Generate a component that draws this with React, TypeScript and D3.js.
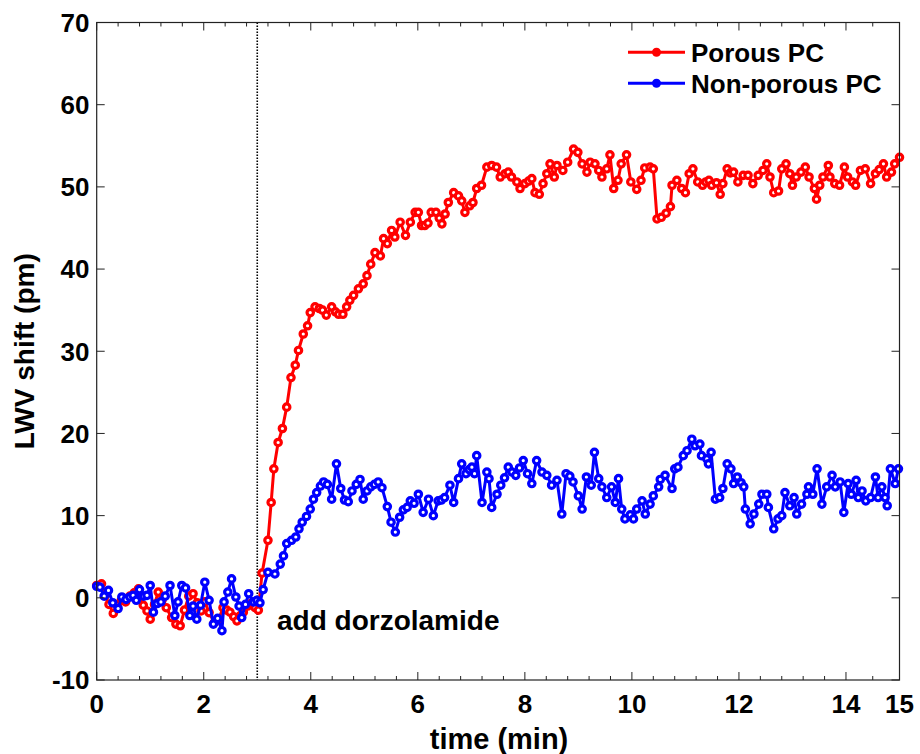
import React from "react";
import * as d3 from "d3";

// ---------- data ----------
const porousData: [number, number][] = [
  [0.0, 1.5], [0.09, 1.7], [0.16, 0.3], [0.23, -0.8], [0.31, -1.9], [0.38, -0.9], [0.46, -0.3], [0.54, -0.5],
  [0.62, 0.2], [0.7, 0.6], [0.78, 1.1], [0.87, -0.9], [0.94, -1.6], [1.0, -2.6], [1.08, -0.8], [1.15, 0.7],
  [1.22, -0.3], [1.3, -1.2], [1.4, -2.4], [1.48, -3.2], [1.56, -3.4], [1.64, -1.5], [1.72, 0.2], [1.8, 0.5],
  [1.88, -0.6], [1.95, -1.6], [2.02, -0.5], [2.1, -1.8], [2.2, -3.0], [2.28, -2.6], [2.36, -1.2], [2.43, -1.5],
  [2.49, -1.75], [2.56, -2.3], [2.62, -2.8], [2.68, -2.2], [2.74, -1.75], [2.82, -1.0], [2.9, -0.6], [2.96, -1.2],
  [3.02, -1.5], [3.09, 3.0], [3.2, 7.0], [3.26, 11.6], [3.31, 15.7], [3.39, 18.9], [3.47, 20.6], [3.55, 23.2],
  [3.63, 26.8], [3.71, 28.3], [3.77, 30.1], [3.86, 32.1], [3.94, 33.1], [3.99, 34.7], [4.08, 35.4], [4.16, 35.2],
  [4.22, 35.0], [4.29, 34.4], [4.39, 35.4], [4.46, 34.8], [4.52, 34.5], [4.6, 34.5], [4.67, 35.4], [4.73, 36.2],
  [4.8, 36.8], [4.89, 37.6], [4.98, 38.2], [5.05, 39.2], [5.12, 40.6], [5.2, 42.0], [5.3, 41.6], [5.36, 43.7],
  [5.43, 43.1], [5.51, 44.7], [5.57, 43.9], [5.67, 45.7], [5.77, 44.1], [5.86, 45.7], [5.95, 46.9], [6.01, 46.9],
  [6.07, 45.3], [6.13, 45.3], [6.19, 45.6], [6.25, 46.9], [6.34, 46.9], [6.4, 46.2], [6.45, 45.5], [6.51, 46.7],
  [6.57, 48.1], [6.67, 49.3], [6.76, 48.9], [6.82, 48.3], [6.88, 46.9], [6.97, 47.7], [7.03, 48.1], [7.1, 49.8],
  [7.19, 50.2], [7.29, 52.4], [7.38, 52.6], [7.47, 52.4], [7.54, 51.2], [7.63, 51.6], [7.69, 51.8], [7.75, 51.2],
  [7.85, 50.6], [7.91, 49.8], [8.0, 50.4], [8.07, 50.7], [8.13, 51.0], [8.19, 49.3], [8.27, 49.1], [8.34, 50.4],
  [8.41, 51.6], [8.47, 52.8], [8.55, 51.2], [8.6, 52.6], [8.71, 52.0], [8.8, 53.0], [8.91, 54.6], [8.99, 54.2],
  [9.07, 52.8], [9.16, 51.8], [9.22, 53.0], [9.31, 52.8], [9.38, 52.0], [9.44, 51.2], [9.53, 52.2], [9.59, 53.9],
  [9.66, 49.8], [9.74, 50.8], [9.8, 52.8], [9.9, 53.9], [9.98, 50.6], [10.09, 49.7], [10.17, 50.8], [10.24, 52.3],
  [10.34, 52.4], [10.4, 52.2], [10.47, 46.1], [10.55, 46.3], [10.64, 46.8], [10.72, 47.6], [10.75, 50.2], [10.84, 50.8],
  [10.93, 49.8], [11.0, 49.3], [11.07, 51.6], [11.14, 52.2], [11.23, 50.6], [11.32, 50.2], [11.38, 50.6], [11.44, 50.8],
  [11.49, 50.2], [11.58, 50.5], [11.65, 49.1], [11.7, 50.4], [11.78, 52.2], [11.84, 51.7], [11.9, 51.8], [11.98, 50.6],
  [12.08, 51.4], [12.17, 51.4], [12.26, 50.4], [12.36, 51.4], [12.45, 52.0], [12.52, 52.8], [12.58, 51.2], [12.65, 49.3],
  [12.74, 49.5], [12.8, 52.2], [12.88, 52.8], [12.95, 51.6], [13.0, 50.2], [13.07, 51.2], [13.16, 51.8], [13.24, 52.4],
  [13.31, 51.2], [13.41, 49.8], [13.45, 48.5], [13.51, 50.2], [13.57, 51.2], [13.67, 52.6], [13.7, 51.2], [13.79, 50.4],
  [13.88, 50.2], [13.97, 52.4], [14.03, 51.2], [14.12, 50.6], [14.18, 50.2], [14.27, 52.0], [14.36, 52.2], [14.46, 50.4],
  [14.55, 51.6], [14.62, 52.1], [14.7, 52.8], [14.76, 51.2], [14.85, 51.8], [14.91, 52.8], [15.0, 53.6],
];

const nonPorousData: [number, number][] = [
  [0.0, 1.4], [0.06, 1.3], [0.14, 0.2], [0.22, 0.9], [0.3, -0.6], [0.4, -1.3], [0.47, 0.1], [0.55, -0.2],
  [0.62, 0.1], [0.68, 0.3], [0.74, -0.3], [0.8, 1.0], [0.88, 0.2], [0.94, 0.3], [1.0, 1.5], [1.06, -1.75],
  [1.13, -0.7], [1.2, -0.5], [1.28, 0.2], [1.37, 1.5], [1.46, -2.15], [1.52, -0.5], [1.59, 1.5], [1.66, 1.2],
  [1.74, -2.15], [1.8, -1.0], [1.87, -2.6], [1.94, -0.9], [2.02, 1.9], [2.1, -0.3], [2.18, -3.2], [2.26, -2.5],
  [2.34, -4.0], [2.38, -0.5], [2.45, 0.7], [2.52, 2.3], [2.6, 0.1], [2.66, -1.0], [2.71, -2.4], [2.78, -0.8],
  [2.84, 0.5], [2.93, -0.5], [2.99, -0.3], [3.05, -0.6], [3.11, 1.0], [3.2, 3.1], [3.33, 2.9], [3.43, 4.1],
  [3.49, 5.1], [3.55, 6.6], [3.64, 7.0], [3.72, 7.4], [3.78, 8.4], [3.84, 9.2], [3.92, 9.9], [3.99, 10.8],
  [4.05, 12.0], [4.11, 12.8], [4.18, 13.6], [4.24, 14.1], [4.31, 13.8], [4.39, 12.0], [4.48, 16.3], [4.56, 13.3],
  [4.63, 11.9], [4.7, 11.7], [4.77, 13.0], [4.85, 13.8], [4.92, 14.4], [4.98, 12.0], [5.05, 13.0], [5.12, 13.5],
  [5.19, 13.8], [5.26, 14.1], [5.33, 13.4], [5.43, 11.1], [5.5, 9.2], [5.58, 8.0], [5.66, 9.8], [5.73, 10.7],
  [5.8, 11.0], [5.86, 11.8], [5.93, 11.5], [6.01, 12.6], [6.1, 10.4], [6.2, 12.0], [6.29, 10.0], [6.38, 11.8],
  [6.44, 11.9], [6.5, 12.2], [6.6, 13.7], [6.67, 11.6], [6.76, 14.5], [6.82, 16.3], [6.9, 15.1], [6.96, 15.6],
  [7.01, 15.9], [7.06, 15.1], [7.1, 17.3], [7.2, 11.6], [7.29, 15.3], [7.33, 14.5], [7.38, 11.0], [7.48, 12.6],
  [7.55, 13.7], [7.62, 14.6], [7.69, 15.9], [7.76, 15.3], [7.83, 14.9], [7.9, 15.8], [7.97, 16.7], [8.05, 15.1],
  [8.13, 13.9], [8.22, 16.7], [8.32, 15.3], [8.41, 14.9], [8.5, 13.7], [8.6, 14.3], [8.69, 10.2], [8.77, 15.1],
  [8.84, 14.8], [8.9, 14.1], [9.0, 12.4], [9.07, 10.8], [9.15, 14.7], [9.24, 13.7], [9.3, 17.7], [9.38, 14.5],
  [9.44, 13.5], [9.53, 12.2], [9.62, 13.5], [9.69, 11.6], [9.75, 14.5], [9.81, 10.8], [9.87, 9.6], [9.97, 10.1],
  [10.03, 9.6], [10.09, 10.8], [10.19, 11.8], [10.25, 10.2], [10.34, 11.4], [10.4, 12.4], [10.5, 13.5], [10.53, 14.4],
  [10.62, 14.9], [10.75, 13.3], [10.8, 15.7], [10.86, 15.9], [10.96, 17.3], [11.03, 17.9], [11.12, 19.3], [11.18, 18.5],
  [11.27, 18.7], [11.3, 17.3], [11.4, 16.9], [11.43, 16.3], [11.48, 17.7], [11.56, 12.0], [11.64, 12.2], [11.7, 13.3],
  [11.78, 16.3], [11.85, 15.7], [11.9, 13.9], [11.97, 14.7], [12.04, 14.0], [12.09, 13.5], [12.12, 10.8], [12.21, 9.0],
  [12.28, 10.2], [12.37, 11.4], [12.43, 12.6], [12.52, 12.6], [12.55, 11.0], [12.65, 8.4], [12.73, 9.6], [12.8, 10.0],
  [12.86, 12.8], [12.95, 11.2], [13.03, 12.2], [13.08, 10.2], [13.17, 11.4], [13.27, 12.6], [13.3, 13.5], [13.38, 12.6],
  [13.46, 15.7], [13.55, 11.4], [13.64, 13.5], [13.74, 14.9], [13.8, 13.5], [13.89, 14.1], [13.96, 10.4], [14.04, 13.9],
  [14.1, 12.6], [14.19, 14.3], [14.23, 12.2], [14.3, 13.0], [14.37, 11.8], [14.46, 12.2], [14.55, 14.7], [14.6, 12.2],
  [14.67, 13.5], [14.73, 12.2], [14.77, 11.2], [14.83, 15.7], [14.92, 13.9], [14.98, 15.7],
];

const xTicks = [0, 2, 4, 6, 8, 10, 12, 14, 15];
const xMinorTicks = [
  0.4, 0.8, 1.2, 1.6, 2.4, 2.8, 3.2, 3.6, 4.4, 4.8, 5.2, 5.6, 6.4, 6.8, 7.2, 7.6, 8.4, 8.8, 9.2, 9.6,
  10.4, 10.8, 11.2, 11.6, 12.4, 12.8, 13.2, 13.6, 14.5,
];
const yTicks = [-10, 0, 10, 20, 30, 40, 50, 60, 70];
const seriesNames = ["Porous PC", "Non-porous PC"];
const seriesColors = ["#ff0000", "#0000ff"];
const injectionTime = 3;
const annotationText = "add dorzolamide";

// ---------- layout ----------
const W = 920;
const H = 754;
const left = 96.7;
const right = 899.5;
const top = 22.5;
const bottom = 680;
const FONT = "'Liberation Sans', Arial, Helvetica, sans-serif";

export default function App() {
  const x = d3.scaleLinear().domain([0, 15]).range([left, right]);
  const y = d3.scaleLinear().domain([-10, 70]).range([bottom, top]);
  const line = d3
    .line<[number, number]>()
    .x((d) => x(d[0]))
    .y((d) => y(d[1]));

  const series = [porousData, nonPorousData];
  const axisColor = "#222";

  return (
    <svg
      width={W}
      height={H}
      style={{ position: "absolute", left: 0, top: 0, background: "#fff" }}
      fontFamily={FONT}
    >
      <rect x={0} y={0} width={W} height={H} fill="#fff" />
      {/* dotted injection line */}
      <line
        x1={x(injectionTime)}
        x2={x(injectionTime)}
        y1={y(70)}
        y2={y(-10)}
        stroke="#000"
        strokeWidth={1.6}
        strokeDasharray="1.5,1.5"
      />
      {/* series */}
      {series.map((data, i) => (
        <g key={i}>
          <path d={line(data) || ""} fill="none" stroke={seriesColors[i]} strokeWidth={3} strokeLinejoin="round" />
          {data.map((d, j) => (
            <circle
              key={j}
              cx={x(d[0])}
              cy={y(d[1])}
              r={3.2}
              fill="#fff"
              stroke={seriesColors[i]}
              strokeWidth={3.2}
            />
          ))}
        </g>
      ))}
      {/* axes box */}
      <rect x={left} y={top} width={right - left} height={bottom - top} fill="none" stroke={axisColor} strokeWidth={1.2} />
      {/* x ticks */}
      {xTicks.map((t) => (
        <g key={"xt" + t}>
          <line x1={x(t)} x2={x(t)} y1={bottom} y2={bottom - 8} stroke={axisColor} strokeWidth={1} />
          <line x1={x(t)} x2={x(t)} y1={top} y2={top + 8} stroke={axisColor} strokeWidth={1} />
          <text x={x(t)} y={713} textAnchor="middle" fontSize={26} fontWeight="bold" fill="#000">
            {t}
          </text>
        </g>
      ))}
      {xMinorTicks.map((t) => (
        <g key={"xm" + t}>
          <line x1={x(t)} x2={x(t)} y1={bottom} y2={bottom - 4} stroke={axisColor} strokeWidth={1} />
          <line x1={x(t)} x2={x(t)} y1={top} y2={top + 4} stroke={axisColor} strokeWidth={1} />
        </g>
      ))}
      {/* y ticks */}
      {yTicks.map((t) => (
        <g key={"yt" + t}>
          <line x1={left} x2={left + 8} y1={y(t)} y2={y(t)} stroke={axisColor} strokeWidth={1} />
          <line x1={right} x2={right - 8} y1={y(t)} y2={y(t)} stroke={axisColor} strokeWidth={1} />
          <text x={89.5} y={y(t)} dy="0.36em" textAnchor="end" fontSize={26} fontWeight="bold" fill="#000">
            {t}
          </text>
        </g>
      ))}
      {/* axis labels */}
      <text x={499} y={749} textAnchor="middle" fontSize={29} fontWeight="bold" fill="#000">
        time (min)
      </text>
      <text
        transform={`translate(34,${(top + bottom) / 2}) rotate(-90)`}
        textAnchor="middle"
        fontSize={28}
        fontWeight="bold"
        fill="#000"
      >
        LWV shift (pm)
      </text>
      {/* annotation */}
      <text x={277} y={630} fontSize={28} fontWeight="bold" fill="#000">
        {annotationText}
      </text>
      {/* legend */}
      {seriesNames.map((name, i) => (
        <g key={name} transform={`translate(0,${52.3 + i * 31})`}>
          <line x1={628} x2={685} y1={0} y2={0} stroke={seriesColors[i]} strokeWidth={3} />
          <circle cx={656.5} cy={0} r={4.5} fill={seriesColors[i]} />
          <text x={691} y={0} dy="0.36em" fontSize={26} fontWeight="bold" fill="#000">
            {name}
          </text>
        </g>
      ))}
    </svg>
  );
}
